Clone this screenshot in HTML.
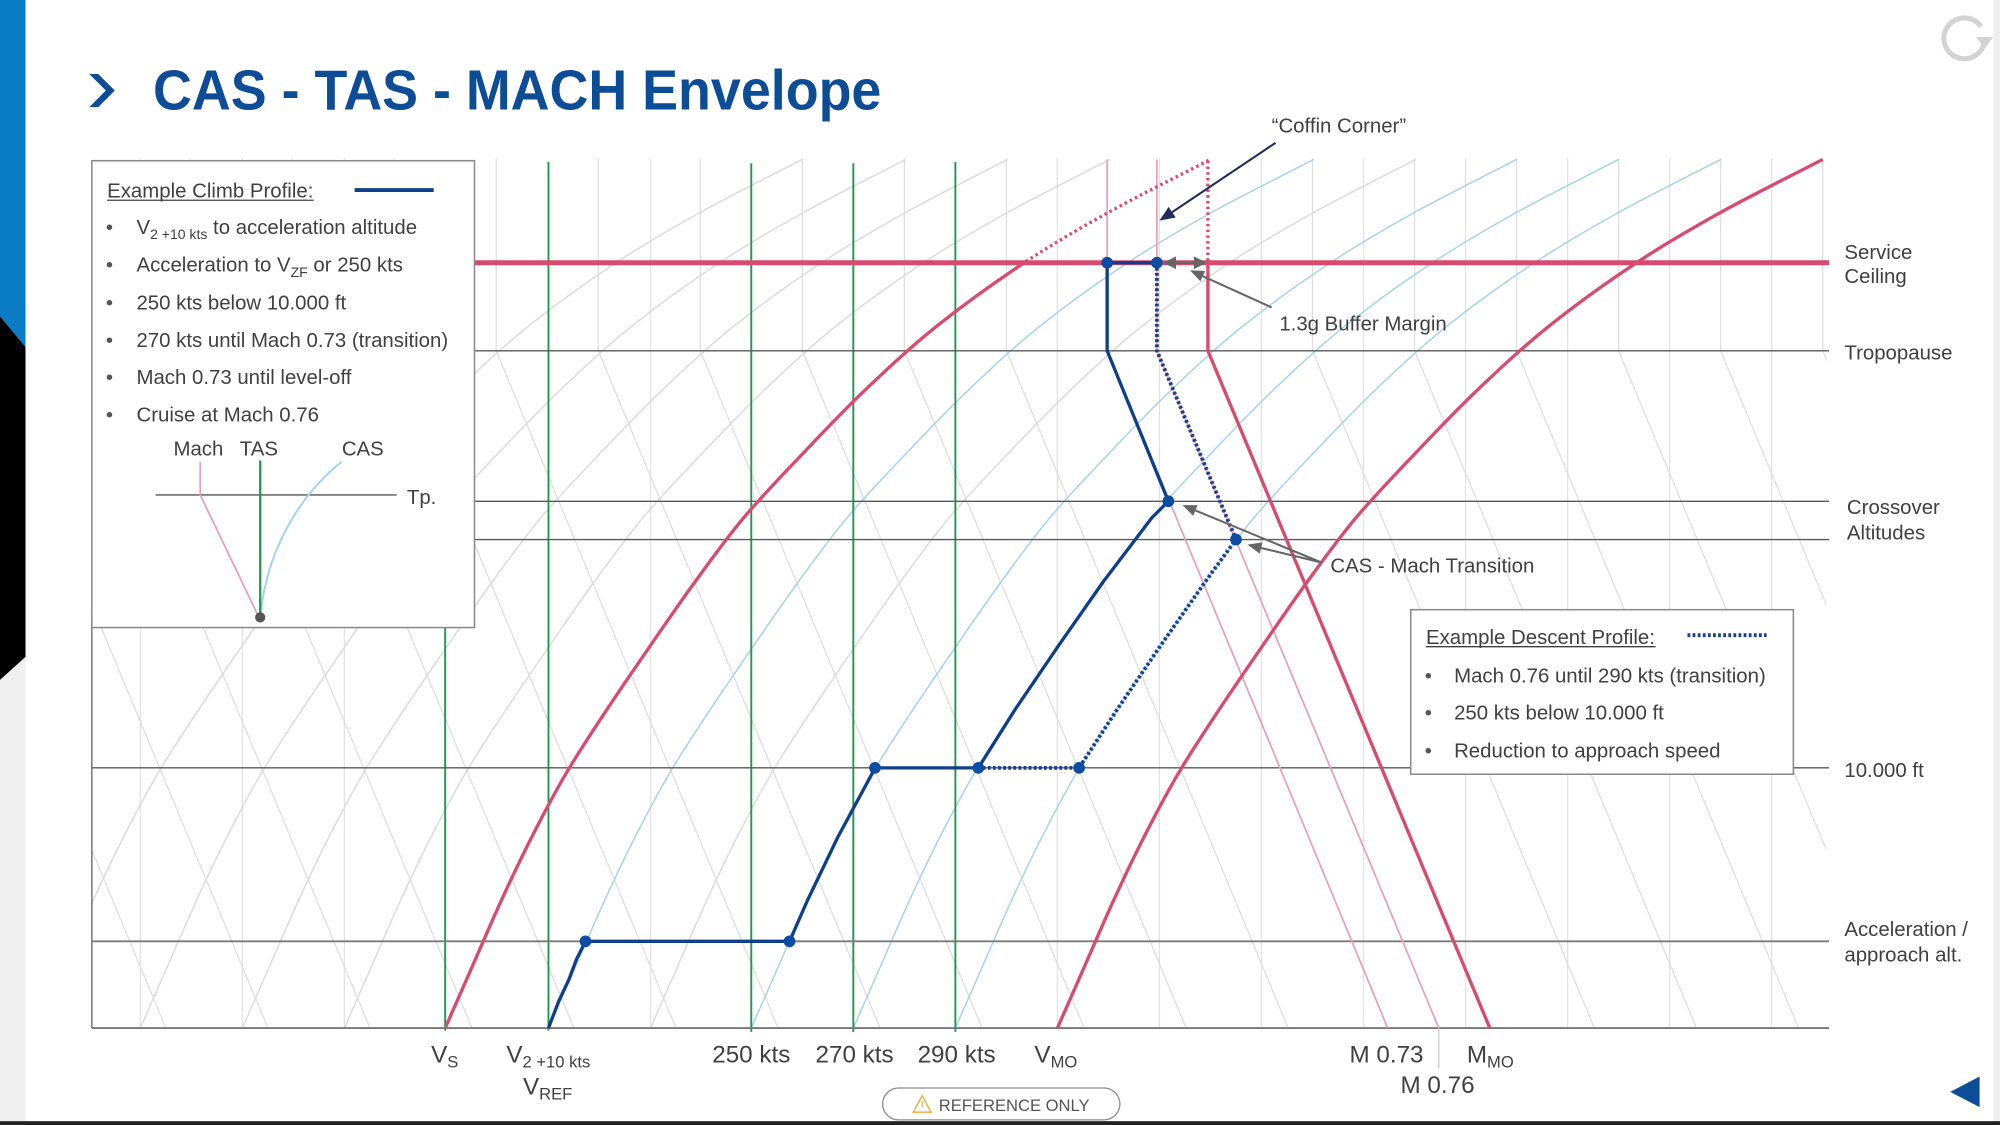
<!DOCTYPE html>
<html>
<head>
<meta charset="utf-8">
<style>
html,body{margin:0;padding:0;background:#fff;width:2000px;height:1125px;overflow:hidden}
svg{display:block}
</style>
</head>
<body>
<svg width="2000" height="1125" viewBox="0 0 1568 882" xmlns="http://www.w3.org/2000/svg" font-family="'Liberation Sans', Arial, sans-serif">
<defs>
  <clipPath id="plot"><rect x="72" y="124" width="1360" height="682"/></clipPath>
  <clipPath id="belowCeil"><rect x="0" y="206" width="1568" height="700"/></clipPath>
  <clipPath id="aboveCeil"><rect x="0" y="120" width="1568" height="86"/></clipPath>
  <path id="cas" fill="none" d="M0,806 C7.33,789.33 14.67,772.67 22,756 C29.33,739.33 36.33,722.67 44,706 C51.67,689.33 59.5,672.67 68,656 C76.5,639.33 85.17,622.67 95,606 C104.83,589.33 116,572.67 127,556 C138,539.33 149.5,522.67 161,506 C172.5,489.33 183.83,472.67 196,456 C208.17,439.33 220,422.67 234,406 C248,389.33 264.17,372.67 280,356 C295.83,339.33 311.5,322.67 329,306 C346.5,289.33 364.17,272.67 385,256 C405.83,239.33 431.33,221 454,206 C476.67,191 496.67,179.5 521,166 C545.33,152.5 573.67,138.67 600,125"/>
</defs>

<!-- page background -->
<rect x="0" y="0" width="1568" height="882" fill="#ffffff"/>

<!-- left bar -->
<rect x="0" y="0" width="20" height="880" fill="#efefef"/>
<polygon points="0,0 20,0 20,272 0,248" fill="#0a7bc5"/>
<polygon points="0,248 20,272 20,515 0,533" fill="#000000"/>
<!-- right strip & bottom line -->
<rect x="1563" y="0" width="5" height="879" fill="#eeeeee"/>
<rect x="0" y="879" width="1568" height="3" fill="#222222"/>

<!-- title -->
<polygon points="70,58 77,58 90,71 77,84 70,84 83,71" fill="#0d4c97"/>
<text x="120" y="86" font-size="44" font-weight="bold" fill="#0d4c97" textLength="571" lengthAdjust="spacingAndGlyphs">CAS - TAS - MACH Envelope</text>

<!-- refresh icon -->
<path d="M1553.1,20.8 A16,16 0 1,0 1555.8,32.8" fill="none" stroke="#d3d3d3" stroke-width="4"/>
<polygon points="1549,29 1563,29 1556,38" fill="#d3d3d3"/>

<!-- back triangle -->
<polygon points="1529,856 1552,844 1552,868" fill="#0d4c97"/>

<!-- ============ GRID ============ -->
<g clip-path="url(#plot)" fill="none">
  <!-- TAS verticals -->
  <g stroke="#e2e2e2" stroke-width="1">
    <line x1="110" y1="124" x2="110" y2="806"/>
    <line x1="190" y1="124" x2="190" y2="806"/>
    <line x1="270" y1="124" x2="270" y2="806"/>
    <line x1="510" y1="124" x2="510" y2="806"/>
    <line x1="829" y1="124" x2="829" y2="806"/>
    <line x1="909" y1="124" x2="909" y2="806"/>
    <line x1="989" y1="124" x2="989" y2="806"/>
    <line x1="1069" y1="124" x2="1069" y2="806"/>
    <line x1="1149" y1="124" x2="1149" y2="806"/>
    <line x1="1229" y1="124" x2="1229" y2="806"/>
    <line x1="1309" y1="124" x2="1309" y2="806"/>
    <line x1="1389" y1="124" x2="1389" y2="806"/>
  </g>
  <!-- Mach lines -->
  <g stroke="#dedede" stroke-width="1">
    <path d="M-91,124 V275 L130,806"/>
    <path d="M-11,124 V275 L210,806"/>
    <path d="M69,124 V275 L290,806"/>
    <path d="M149,124 V275 L370,806"/>
    <path d="M229,124 V275 L450,806"/>
    <path d="M309,124 V275 L530,806"/>
    <path d="M389,124 V275 L610,806"/>
    <path d="M469,124 V275 L690,806"/>
    <path d="M549,124 V275 L770,806"/>
    <path d="M629,124 V275 L850,806"/>
    <path d="M709,124 V275 L930,806"/>
    <path d="M789,124 V275 L1010,806"/>
    <path d="M1029,124 V275 L1250,806"/>
    <path d="M1109,124 V275 L1330,806"/>
    <path d="M1189,124 V275 L1410,806"/>
    <path d="M1269,124 V275 L1490,806"/>
    <path d="M1349,124 V275 L1570,806"/>
    <path d="M1429,124 V275 L1650,806"/>
  </g>
  <!-- CAS curves -->
  <g stroke-width="1.2">
    <use href="#cas" x="29" stroke="#dcdcdc"/>
    <use href="#cas" x="110" stroke="#dcdcdc"/>
    <use href="#cas" x="190" stroke="#dcdcdc"/>
    <use href="#cas" x="270" stroke="#dcdcdc"/>
    <use href="#cas" x="510" stroke="#dcdcdc"/>
    <use href="#cas" x="430" stroke="#a9d3ea"/>
    <use href="#cas" x="589" stroke="#a9d3ea"/>
    <use href="#cas" x="669" stroke="#a9d3ea"/>
    <use href="#cas" x="749" stroke="#a9d3ea"/>
  </g>
</g>

<!-- green TAS lines -->
<g stroke="#1e9a50" stroke-width="1.5">
  <line x1="349" y1="126" x2="349" y2="808"/>
  <line x1="430" y1="127" x2="430" y2="808"/>
  <line x1="589" y1="128" x2="589" y2="809"/>
  <line x1="669" y1="128" x2="669" y2="809"/>
  <line x1="749" y1="127" x2="749" y2="809"/>
</g>

<!-- horizontal lines -->
<g stroke="#595959" stroke-width="1.1">
  <line x1="72" y1="275" x2="1434" y2="275"/>
  <line x1="72" y1="393" x2="1434" y2="393"/>
  <line x1="72" y1="423" x2="1434" y2="423"/>
  <line x1="72" y1="602" x2="1434" y2="602"/>
</g>
<line x1="72" y1="738" x2="1434" y2="738" stroke="#7a7a7a" stroke-width="1.4"/>
<line x1="72" y1="806" x2="1434" y2="806" stroke="#777" stroke-width="1.5"/>
<line x1="72" y1="480" x2="72" y2="806" stroke="#777" stroke-width="1.2"/>
<line x1="1128" y1="806" x2="1128" y2="838" stroke="#cccccc" stroke-width="1"/>

<!-- pink Mach 0.73 / 0.76 -->
<g stroke="#e8a3bb" stroke-width="1.4" fill="none">
  <path d="M868,125 V275 L1088,806"/>
  <path d="M907,125 V275 L1128,806"/>
</g>

<!-- red limits -->
<g stroke="#d84a6e" fill="none">
  <line x1="72" y1="206" x2="1434" y2="206" stroke-width="4"/>
  <use href="#cas" x="349" stroke-width="2.6" clip-path="url(#belowCeil)"/>
  <use href="#cas" x="349" stroke-width="2.6" stroke-dasharray="2 2.5" clip-path="url(#aboveCeil)"/>
  <use href="#cas" x="829" stroke-width="2.6"/>
  <line x1="947" y1="126" x2="947" y2="206" stroke-width="2.6" stroke-dasharray="2 2.5"/>
  <path d="M947,206 V275 L1168,806" stroke-width="2.6"/>
</g>

<!-- descent profile (dotted) -->
<path d="M907,206 L907,275 L969,423 L945,456 L910,506 L876,556 L846,602 L767,602" fill="none" stroke="#1b3f8f" stroke-width="3" stroke-dasharray="2.2 1.8"/>

<!-- climb profile -->
<path d="M430,806 L438,785 L446,768 L452,752 L459,738 L619,738 L633,706 L657,656 L684,606 L686,602 L767,602 L796,556 L830,506 L865,456 L903,406 L916,393 L868,275 L868,206 L907,206" fill="none" stroke="#0f3f8c" stroke-width="2.6" stroke-linejoin="round"/>

<!-- dots -->
<g fill="#0b4da2">
  <circle cx="459" cy="738" r="4.6"/>
  <circle cx="619" cy="738" r="4.6"/>
  <circle cx="686" cy="602" r="4.6"/>
  <circle cx="767" cy="602" r="4.6"/>
  <circle cx="846" cy="602" r="4.6"/>
  <circle cx="916" cy="393" r="4.6"/>
  <circle cx="969" cy="423" r="4.6"/>
  <circle cx="868" cy="206" r="4.6"/>
  <circle cx="907" cy="206" r="4.6"/>
</g>

<!-- annotations -->
<line x1="1000" y1="112" x2="919" y2="166.3" stroke="#1f2d5c" stroke-width="1.6"/>
<polygon points="909,173 921.7,170.5 916.2,162.2" fill="#1f2d5c"/>

<line x1="997" y1="241" x2="943" y2="216.5" stroke="#666" stroke-width="1.6"/>
<polygon points="933,212 944.9,212.4 941.1,220.6" fill="#666"/>

<line x1="920" y1="206" x2="938" y2="206" stroke="#666" stroke-width="2"/>
<polygon points="912,206 922,201 922,211" fill="#666"/>
<polygon points="946,206 936,201 936,211" fill="#666"/>

<line x1="1036" y1="441" x2="937.2" y2="400.2" stroke="#666" stroke-width="1.6"/>
<polygon points="927,396 938.9,396 935.5,404.4" fill="#666"/>
<line x1="1036" y1="441" x2="988.7" y2="429.6" stroke="#666" stroke-width="1.6"/>
<polygon points="978,427 989.8,425.2 987.6,434" fill="#666"/>

<g font-size="16" fill="#404040">
  <text x="997" y="104">“Coffin Corner”</text>
  <text x="1003" y="259">1.3g Buffer Margin</text>
  <text x="1043" y="449">CAS - Mach Transition</text>
</g>

<!-- right labels -->
<g font-size="16" fill="#404040">
  <text x="1446" y="203">Service</text>
  <text x="1446" y="222">Ceiling</text>
  <text x="1446" y="282">Tropopause</text>
  <text x="1448" y="403">Crossover</text>
  <text x="1448" y="423">Altitudes</text>
  <text x="1446" y="609">10.000 ft</text>
  <text x="1446" y="734">Acceleration /</text>
  <text x="1446" y="754">approach alt.</text>
</g>

<!-- bottom labels -->
<g font-size="19" fill="#404040">
  <text x="338" y="833">V<tspan font-size="13" dy="4">S</tspan></text>
  <text x="397" y="833">V<tspan font-size="13" dy="4">2 +10 kts</tspan></text>
  <text x="410" y="858">V<tspan font-size="13" dy="4">REF</tspan></text>
  <text x="589" y="833" text-anchor="middle">250 kts</text>
  <text x="670" y="833" text-anchor="middle">270 kts</text>
  <text x="750" y="833" text-anchor="middle">290 kts</text>
  <text x="811" y="833">V<tspan font-size="13" dy="4">MO</tspan></text>
  <text x="1058" y="833">M 0.73</text>
  <text x="1150" y="833">M<tspan font-size="13" dy="4">MO</tspan></text>
  <text x="1098" y="857">M 0.76</text>
</g>

<!-- reference only pill -->
<rect x="692" y="853" width="186" height="25" rx="12.5" fill="#fff" stroke="#8a8a8a" stroke-width="1"/>
<polygon points="723,859 730,872 716,872" fill="none" stroke="#e5b85a" stroke-width="1.3"/>
<line x1="723" y1="863" x2="723" y2="868" stroke="#e5b85a" stroke-width="1"/>
<text x="736" y="871" font-size="13" fill="#555">REFERENCE ONLY</text>

<!-- climb legend -->
<rect x="72" y="126" width="300" height="366" fill="#ffffff" stroke="#8a8a8a" stroke-width="1.2"/>
<g font-size="16" fill="#404040">
  <text x="84" y="155">Example Climb Profile:</text>
  <line x1="84" y1="157" x2="246" y2="157" stroke="#404040" stroke-width="1"/>
  <line x1="278" y1="149" x2="340" y2="149" stroke="#0f3f8c" stroke-width="3"/>
  <g fill="#555">
    <text x="83" y="183.5">•</text>
    <text x="83" y="213">•</text>
    <text x="83" y="242.5">•</text>
    <text x="83" y="272">•</text>
    <text x="83" y="301">•</text>
    <text x="83" y="330.5">•</text>
  </g>
  <text x="107" y="183.5">V<tspan font-size="11" dy="4">2 +10 kts</tspan><tspan dy="-4"> to acceleration altitude</tspan></text>
  <text x="107" y="213">Acceleration to V<tspan font-size="11" dy="4">ZF</tspan><tspan dy="-4"> or 250 kts</tspan></text>
  <text x="107" y="242.5">250 kts below 10.000 ft</text>
  <text x="107" y="272">270 kts until Mach 0.73 (transition)</text>
  <text x="107" y="301">Mach 0.73 until level-off</text>
  <text x="107" y="330.5">Cruise at Mach 0.76</text>
  <text x="136" y="357">Mach</text>
  <text x="188" y="357">TAS</text>
  <text x="268" y="357">CAS</text>
  <text x="319" y="395">Tp.</text>
</g>
<line x1="122" y1="388" x2="311" y2="388" stroke="#555" stroke-width="1.1"/>
<path d="M157,362 V388 L203,484" fill="none" stroke="#e3a1bf" stroke-width="1.4"/>
<path d="M268,362 C245,380 210,420 204,484" fill="none" stroke="#a9d3ea" stroke-width="1.6"/>
<line x1="204" y1="361" x2="204" y2="484" stroke="#1e9a50" stroke-width="1.8"/>
<circle cx="204" cy="484" r="4" fill="#555"/>

<!-- descent legend -->
<rect x="1106" y="478" width="300" height="129" fill="#ffffff" stroke="#8a8a8a" stroke-width="1.2"/>
<g font-size="16" fill="#404040">
  <text x="1118" y="505">Example Descent Profile:</text>
  <line x1="1118" y1="507" x2="1298" y2="507" stroke="#404040" stroke-width="1"/>
  <line x1="1323" y1="498" x2="1385" y2="498" stroke="#1b3f8f" stroke-width="3" stroke-dasharray="2.2 1.8"/>
  <g fill="#555">
    <text x="1117" y="535">•</text>
    <text x="1117" y="564">•</text>
    <text x="1117" y="594">•</text>
  </g>
  <text x="1140" y="535">Mach 0.76 until 290 kts (transition)</text>
  <text x="1140" y="564">250 kts below 10.000 ft</text>
  <text x="1140" y="594">Reduction to approach speed</text>
</g>
</svg>
</body>
</html>
